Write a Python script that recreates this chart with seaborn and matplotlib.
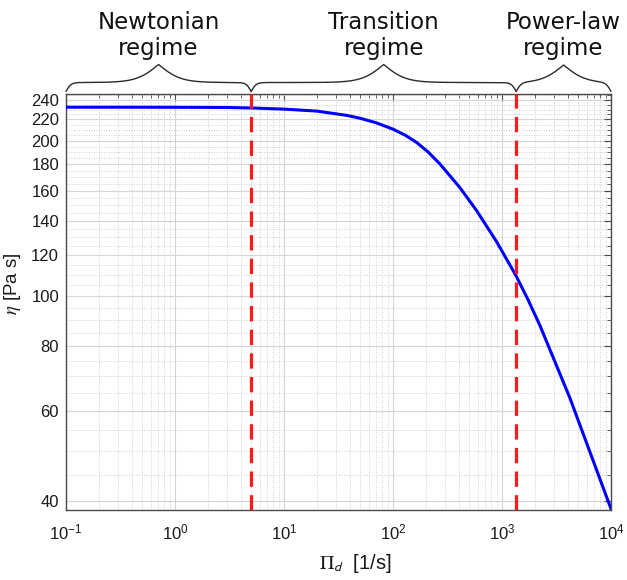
import numpy as np
import matplotlib
matplotlib.use("Agg")
import matplotlib.pyplot as plt
import matplotlib.ticker as mticker
import seaborn as sns

# Flow curve: shear rate [1/s] against viscosity [Pa s]
shear_rate = [0.1, 0.3, 1, 3, 5, 10, 20, 38, 50, 70, 100, 130, 165, 210,
              270, 412, 586, 894, 1343, 1734, 2235, 4207, 10000]
viscosity = [232.4, 232.4, 232.3, 232.1, 231.6, 230.4, 228.4, 224.0, 221.2,
             216.8, 210.7, 205.0, 198.5, 190.3, 180.3, 162.2, 146.4, 127.4,
             109.6, 98.4, 87.6, 63.4, 38.7]

# Regime boundaries along the shear-rate axis and their names
regime_edges = [0.1, 5, 1350, 10000]
regime_names = ["Newtonian\nregime", "Transition\nregime", "Power-law\nregime"]
boundary_rates = [5, 1350]

# Axis ticks
y_ticks = [40, 60, 80, 100, 120, 140, 160, 180, 200, 220, 240]
x_limits = (0.1, 10000)
y_limits = (38.5, 246.5)

sns.set_style("white")
plt.rcParams["font.family"] = ["Liberation Sans", "DejaVu Sans"]

AXIS_GREY = "#4a4a4a"

fig = plt.figure(figsize=(6.27, 5.80), dpi=100)
ax = fig.add_axes([66 / 627, 1 - 510 / 580, 545 / 627, 416 / 580])
ax.set_xscale("log")
ax.set_yscale("log")

ax.grid(which="major", color="#d6d6d6", linewidth=0.8, linestyle="-")
ax.grid(which="minor", color="#bfbfbf", linewidth=0.6, linestyle=(0, (1, 2)))
ax.set_axisbelow(True)

sns.lineplot(x=shear_rate, y=viscosity, ax=ax, color="#0000ff",
             linewidth=2.2, estimator=None, sort=False, zorder=3)

for rate in boundary_rates:
    ax.axvline(rate, color="#ff1a1a", linewidth=2.3,
               linestyle=(0, (4.8, 2.6)), zorder=4)

ax.set_xlim(*x_limits)
ax.set_ylim(*y_limits)

ax.xaxis.set_major_locator(mticker.LogLocator(base=10, numticks=10))
ax.xaxis.set_minor_locator(mticker.LogLocator(base=10, subs=np.arange(2, 10), numticks=20))
ax.xaxis.set_minor_formatter(mticker.NullFormatter())
ax.yaxis.set_major_locator(mticker.FixedLocator(y_ticks))
ax.yaxis.set_major_formatter(mticker.FormatStrFormatter("%d"))
ax.yaxis.set_minor_locator(mticker.MultipleLocator(5))
ax.yaxis.set_minor_formatter(mticker.NullFormatter())

ax.tick_params(which="both", direction="in", top=True, right=True,
               colors=AXIS_GREY, labelcolor="#1a1a1a", labelsize=12)
ax.tick_params(which="major", length=5, width=0.8)
ax.tick_params(which="minor", length=3, width=0.6)
ax.tick_params(axis="x", which="major", pad=9)
ax.tick_params(axis="y", which="major", pad=5)
for side in ax.spines.values():
    side.set_color(AXIS_GREY)
    side.set_linewidth(1.0)

ax.set_xlabel(r"$\Pi_{\mathsf{d}}$  [1/s]", fontsize=14.5,
              math_fontfamily="stix", color="#1a1a1a")
ax.xaxis.set_label_coords(0.53, -0.1)
ax.set_ylabel(r"$\eta$ [Pa s]", fontsize=13.5, math_fontfamily="stix",
              color="#1a1a1a")
ax.yaxis.set_label_coords(-0.079, 0.543)


def sigmoid(v):
    return 1.0 / (1.0 + np.exp(-v))


def draw_brace(ax, x0, x1, label):
    """Curly brace above the axes spanning data range [x0, x1], with a label."""
    to_axes = ax.transData + ax.transAxes.inverted()
    u0 = to_axes.transform((x0, 1.0))[0]
    u1 = to_axes.transform((x1, 1.0))[0]
    w_px = ax.bbox.width
    h_px = ax.bbox.height
    half = (u1 - u0) * w_px / 2
    u = np.linspace(u0, u1, 600)
    d = np.minimum(u - u0, u1 - u) * w_px
    a, s1 = 18.0, 2.5
    b, s2 = 36.0, 11.0
    rise = a * sigmoid(d / s1) + b * sigmoid((d - half) / s2)
    rise -= a * 0.5 + b * sigmoid(-half / s2)
    y = 1.0 + (2.5 + rise) / h_px
    ax.plot(u, y, transform=ax.transAxes, color="#2b2b2b", linewidth=1.0,
            clip_on=False, solid_capstyle="round")
    # baseline of the last text line sits a little above the brace tip
    ax.text((u0 + u1) / 2, 1.0 + 39 / h_px, label, transform=ax.transAxes,
            ha="center", va="baseline", multialignment="center",
            fontsize=16.5, family="DejaVu Sans", color="#111111",
            linespacing=1.15)


for (lo, hi), name in zip(zip(regime_edges[:-1], regime_edges[1:]), regime_names):
    draw_brace(ax, lo, hi, name)

fig.savefig("out.png", dpi=100)
